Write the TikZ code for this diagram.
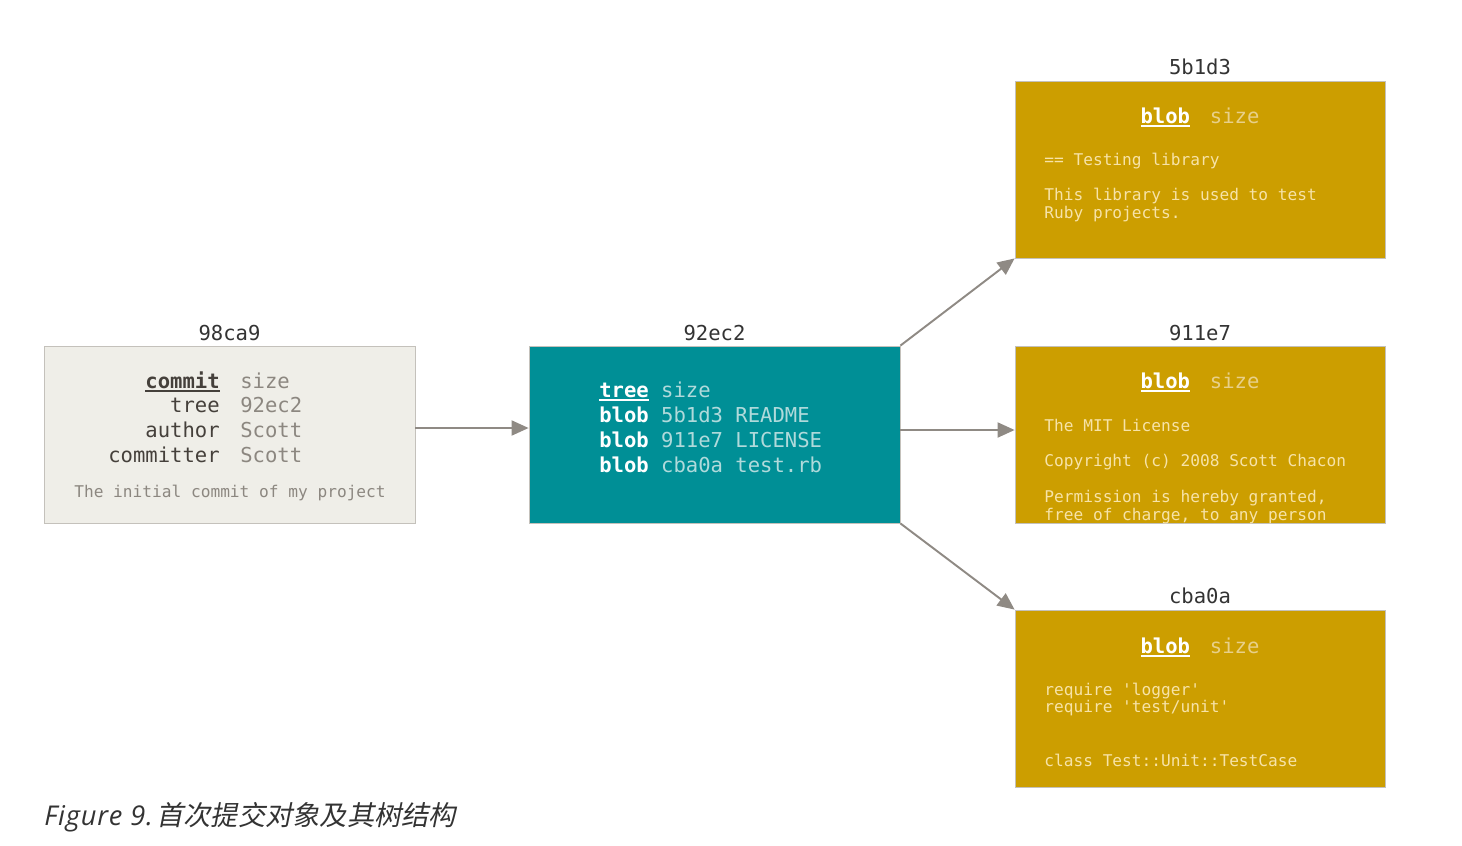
\documentclass[tikz,border=0pt]{standalone}
\usepackage{fontspec}
\setmonofont{DejaVu Sans Mono}
\newfontfamily\capfont[LetterSpace=3]{Open Sans}
\newfontfamily\cjk[FakeSlant=0.2]{Noto Sans CJK SC}
\usetikzlibrary{positioning,arrows.meta}
\definecolor{commitbg}{HTML}{EFEEE8}
\definecolor{treebg}{HTML}{008F96}
\definecolor{blobbg}{HTML}{CC9E00}
\definecolor{edge}{HTML}{C4C1BB}
\definecolor{arrowgray}{HTML}{8F8A84}
\definecolor{keydark}{HTML}{45403B}
\definecolor{valgray}{HTML}{8C8780}
\definecolor{treeval}{HTML}{B0DADB}
\definecolor{blobsize}{HTML}{E8D08A}
\definecolor{blobtext}{HTML}{F7E3A8}
\definecolor{idtext}{HTML}{333333}
% bold word with a heavy underline
\newcommand\hdr[1]{\setbox0=\hbox{\bfseries #1}\rlap{\rule[-2pt]{\wd0}{0.9pt}}\box0}

\begin{document}
\begin{tikzpicture}[x=0.02cm,y=-0.02cm, every node/.style={font=\ttfamily},
  box/.style={draw=edge,line width=0.5pt,minimum width=7.42cm,minimum height=3.54cm,inner sep=0pt},
  commitbox/.style={box,fill=commitbg}, treebox/.style={box,fill=treebg},
  blobbox/.style={box,fill=blobbg,minimum width=7.4cm},
  idlabel/.style={font=\ttfamily\fontsize{11.7}{14}\selectfont,text=idtext,inner sep=0pt},
  main/.style={font=\ttfamily\fontsize{11.7}{14.2}\selectfont,inner sep=0pt},
  small/.style={font=\ttfamily\fontsize{9.2}{10.2}\selectfont,inner sep=0pt,text=blobtext},
  arr/.style={draw=arrowgray,line width=1.1pt,-{Triangle[length=0.34cm,width=0.3cm]}}]
 \useasboundingbox (0,0) rectangle (1462,845);

 % objects
 \node[commitbox] (c98) at (229.5,434.5) {};
 \node[treebox] (t92) at (714.5,434.5) {};
 \node[blobbox] (b5b) at (1200,169.5) {};
 \node[blobbox] (b911) at (1200,434.5) {};
 \node[blobbox] (bcba) at (1200,698.5) {};

 \node[idlabel,above=2.5pt of c98] (l98) {98ca9};
 \node[idlabel,above=2.5pt of t92] (l92) {92ec2};
 \node[idlabel,above=3pt of b5b] (l5b) {5b1d3};
 \node[idlabel,above=2.5pt of b911] (l911) {911e7};
 \node[idlabel,above=3pt of bcba] (lcba) {cba0a};

 % commit contents
 \node[main,anchor=base east,text=keydark] (ckeys) at (220,388) {\begin{tabular}[t]{@{}r@{}}
   \hdr{commit}\\ tree\\ author\\ committer\end{tabular}};
 \node[main,anchor=base west,text=valgray] (cvals) at (240,388) {\begin{tabular}[t]{@{}l@{}}
   size\\ 92ec2\\ Scott\\ Scott\end{tabular}};
 \node[small,anchor=base,text=valgray] (cmsg) at (230,497) {The initial commit of my project};

 % tree contents
 \node[main,anchor=base west,font=\ttfamily\fontsize{11.7}{14.4}\selectfont] (tlist) at (599,397) {\begin{tabular}[t]{@{}l@{}}
   \textcolor{white}{\hdr{tree}} \textcolor{treeval}{size}\\
   \textcolor{white}{\bfseries blob} \textcolor{treeval}{5b1d3 README}\\
   \textcolor{white}{\bfseries blob} \textcolor{treeval}{911e7 LICENSE}\\
   \textcolor{white}{\bfseries blob} \textcolor{treeval}{cba0a test.rb}\end{tabular}};

 % blob contents
 \node[main,anchor=base,text=white] (h5b) at (1200,123) {\hdr{blob}\hspace{11.3pt}\textcolor{blobsize}{size}};
 \node[main,anchor=base,text=white] (h911) at (1200,388) {\hdr{blob}\hspace{11.3pt}\textcolor{blobsize}{size}};
 \node[main,anchor=base,text=white] (hcba) at (1200,653) {\hdr{blob}\hspace{11.3pt}\textcolor{blobsize}{size}};

 \node[small,anchor=base west] (x5b) at (1044,165) {\begin{tabular}[t]{@{}l@{}}
   == Testing library\\ \\ This library is used to test\\ Ruby projects.\end{tabular}};
 \begin{scope}
  \clip (b911.south west) rectangle (b911.north east);
  \node[small,anchor=base west] (x911) at (1044,431) {\begin{tabular}[t]{@{}l@{}}
    The MIT License\\ \\ Copyright (c) 2008 Scott Chacon\\ \\ Permission is hereby granted,\\
    free of charge, to any person\end{tabular}};
 \end{scope}
 \node[small,anchor=base west] (xcba) at (1044,695) {\begin{tabular}[t]{@{}l@{}}
   require 'logger'\\ require 'test/unit'\\ \\ \\ class Test::Unit::TestCase\end{tabular}};

 % links
 \draw[arr] ([yshift=0.13cm]c98.east) -- ([yshift=0.13cm]t92.west);
 \draw[arr] ([yshift=0.09cm]t92.east) -- ([yshift=0.09cm]b911.west);
 \draw[arr] (t92.north east) -- (b5b.south west);
 \draw[arr] (t92.south east) -- (bcba.north west);

 \node[anchor=base west,inner sep=0pt,text=idtext] (caption) at (44,825)
   {\capfont\itshape\fontsize{15.5}{18}\selectfont Figure 9.\hspace{2pt}{\cjk 首次提交对象及其树结构}};
\end{tikzpicture}
\end{document}
